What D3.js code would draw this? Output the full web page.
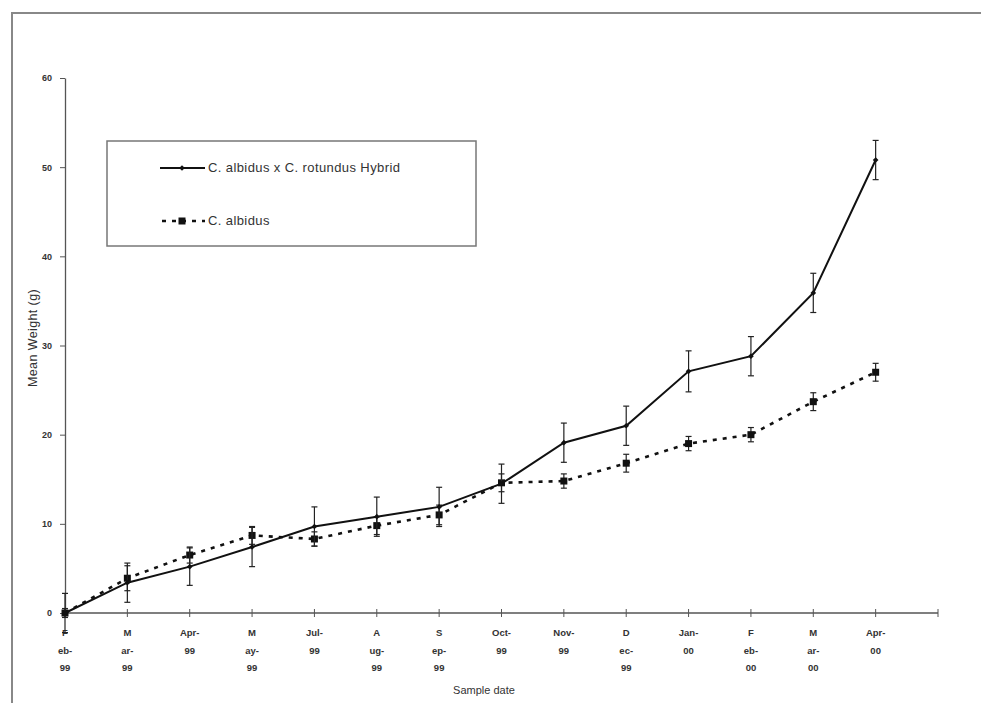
<!DOCTYPE html>
<html>
<head>
<meta charset="utf-8">
<script src="https://cdn.jsdelivr.net/npm/d3@7"></script>
<style>
  body { margin: 0; background: #fff; }
  text { font-family: "Liberation Sans", Arial, sans-serif; fill: #333; }
</style>
</head>
<body>
<div id="chart"></div>
<script>
// sample dates (label lines as wrapped in the original), last slot is empty
var dates = ["Feb-99", "Mar-99", "Apr-99", "May-99", "Jul-99", "Aug-99", "Sep-99",
             "Oct-99", "Nov-99", "Dec-99", "Jan-00", "Feb-00", "Mar-00", "Apr-00", ""];
var dateLabels = [["F", "eb-", "99"], ["M", "ar-", "99"], ["Apr-", "99"], ["M", "ay-", "99"],
                  ["Jul-", "99"], ["A", "ug-", "99"], ["S", "ep-", "99"], ["Oct-", "99"],
                  ["Nov-", "99"], ["D", "ec-", "99"], ["Jan-", "00"], ["F", "eb-", "00"],
                  ["M", "ar-", "00"], ["Apr-", "00"], []];

var hybridMean = [0, 3.4, 5.2, 7.4, 9.7, 10.8, 11.9, 14.5, 19.1, 21.0, 27.1, 28.8, 35.9, 50.8];
var hybridErr  = [2.2, 2.2, 2.1, 2.2, 2.2, 2.2, 2.2, 2.2, 2.2, 2.2, 2.3, 2.2, 2.2, 2.2];
var albidusMean = [0, 3.9, 6.5, 8.7, 8.3, 9.8, 11.0, 14.6, 14.8, 16.8, 19.0, 20.0, 23.7, 27.0];
var albidusErr  = [0.5, 1.4, 0.9, 1.0, 0.8, 1.0, 1.1, 1.0, 0.8, 1.0, 0.8, 0.8, 1.0, 1.0];

var yTicks = [0, 10, 20, 30, 40, 50, 60];

function init() {
    var w = 981, h = 703;

    var svg = d3.select("#chart").append("svg")
        .attr("width", w)
        .attr("height", h);

    // outer frame (left + top edges visible in the scan)
    svg.append("path")
        .attr("d", "M12,703 L12,13 L981,13")
        .attr("fill", "none")
        .attr("stroke", "#888")
        .attr("stroke-width", 2);

    var xScale = d3.scalePoint()
        .domain(dates.map(function(d, i) { return i; }))
        .range([65, 938]);

    var yScale = d3.scaleLinear()
        .domain([0, 60])
        .range([613, 78]);

    // y axis
    var yAxis = d3.axisLeft(yScale)
        .tickValues(yTicks)
        .tickSize(5)
        .tickSizeOuter(0);

    var gy = svg.append("g")
        .attr("transform", "translate(65,0)")
        .call(yAxis);
    gy.select(".domain").attr("stroke", "#555").attr("stroke-width", 1.3);
    gy.selectAll(".tick line").attr("stroke", "#555");
    gy.selectAll(".tick text")
        .attr("x", -13)
        .style("font-size", "9px")
        .style("font-weight", "bold")
        .attr("fill", "#444");

    // x axis (ticks crossing the axis line)
    var gx = svg.append("g")
        .attr("transform", "translate(0," + yScale(0) + ")");
    gx.append("line")
        .attr("x1", xScale(0)).attr("x2", xScale(dates.length - 1))
        .attr("stroke", "#555").attr("stroke-width", 1.3);
    gx.selectAll(".xt").data(dates).enter().append("line")
        .attr("class", "xt")
        .attr("x1", function(d, i) { return xScale(i); })
        .attr("x2", function(d, i) { return xScale(i); })
        .attr("y1", -4).attr("y2", 4)
        .attr("stroke", "#555");

    var xl = gx.selectAll(".xl").data(dateLabels).enter().append("text")
        .attr("class", "xl")
        .attr("text-anchor", "middle")
        .style("font-size", "9.5px")
        .style("font-weight", "bold")
        .attr("fill", "#444");
    xl.selectAll("tspan").data(function(d, i) {
            return d.map(function(s) { return { s: s, i: i }; });
        }).enter().append("tspan")
        .attr("x", function(d) { return xScale(d.i); })
        .attr("y", function(d, j) { return 23 + j * 17.5; })
        .text(function(d) { return d.s; });

    // axis titles
    svg.append("text")
        .attr("transform", "translate(37,338) rotate(-90)")
        .attr("text-anchor", "middle")
        .style("font-size", "12.5px")
        .style("letter-spacing", "0.4px")
        .text("Mean Weight (g)");

    svg.append("text")
        .attr("x", 484).attr("y", 694)
        .attr("text-anchor", "middle")
        .style("font-size", "11px")
        .text("Sample date");

    var series = [
        { mean: albidusMean, err: albidusErr, dash: "4,6", marker: "square", width: 2.6 },
        { mean: hybridMean, err: hybridErr, dash: null, marker: "diamond", width: 2 }
    ];

    var line = d3.line()
        .x(function(d, i) { return xScale(i); })
        .y(function(d) { return yScale(d); });

    series.forEach(function(s) {
        // error bars
        var eb = svg.append("g");
        s.mean.forEach(function(m, i) {
            var x = xScale(i);
            var y0 = yScale(m - s.err[i]), y1 = yScale(m + s.err[i]);
            eb.append("line").attr("x1", x).attr("x2", x).attr("y1", y0).attr("y2", y1)
                .attr("stroke", "#222").attr("stroke-width", 1.2);
            [y0, y1].forEach(function(y) {
                eb.append("line").attr("x1", x - 3).attr("x2", x + 3).attr("y1", y).attr("y2", y)
                    .attr("stroke", "#222").attr("stroke-width", 1.2);
            });
        });

        svg.append("path")
            .datum(s.mean)
            .attr("d", line)
            .attr("fill", "none")
            .attr("stroke", "#111")
            .attr("stroke-width", s.width)
            .attr("stroke-dasharray", s.dash);

        svg.append("g").selectAll("path").data(s.mean).enter().append("path")
            .attr("transform", function(d, i) {
                return "translate(" + xScale(i) + "," + yScale(d) + ")" + (s.marker === "diamond" ? " rotate(45)" : "");
            })
            .attr("d", s.marker === "diamond" ? "M-2,-2H2V2H-2Z" : "M-3.5,-3.5H3.5V3.5H-3.5Z")
            .attr("fill", "#111");
    });

    // legend
    var lg = svg.append("g");
    lg.append("rect")
        .attr("x", 107).attr("y", 141)
        .attr("width", 369).attr("height", 105)
        .attr("fill", "#fff")
        .attr("stroke", "#777")
        .attr("stroke-width", 1.5);

    lg.append("line").attr("x1", 160).attr("x2", 205).attr("y1", 168).attr("y2", 168)
        .attr("stroke", "#111").attr("stroke-width", 2);
    lg.append("path").attr("transform", "translate(182,168) rotate(45)")
        .attr("d", "M-2,-2H2V2H-2Z").attr("fill", "#111");
    lg.append("text").attr("x", 208).attr("y", 172)
        .style("font-size", "13px")
        .style("letter-spacing", "0.4px")
        .text("C. albidus x C. rotundus Hybrid");

    lg.append("line").attr("x1", 160).attr("x2", 205).attr("y1", 221).attr("y2", 221)
        .attr("stroke", "#111").attr("stroke-width", 2.6).attr("stroke-dasharray", "4,6")
        .attr("stroke-dashoffset", -2);
    lg.append("path").attr("transform", "translate(182,221)")
        .attr("d", "M-3.5,-3.5H3.5V3.5H-3.5Z").attr("fill", "#111");
    lg.append("text").attr("x", 208).attr("y", 225)
        .style("font-size", "13px")
        .style("letter-spacing", "0.4px")
        .text("C. albidus");
}

window.onload = init;
</script>
</body>
</html>
